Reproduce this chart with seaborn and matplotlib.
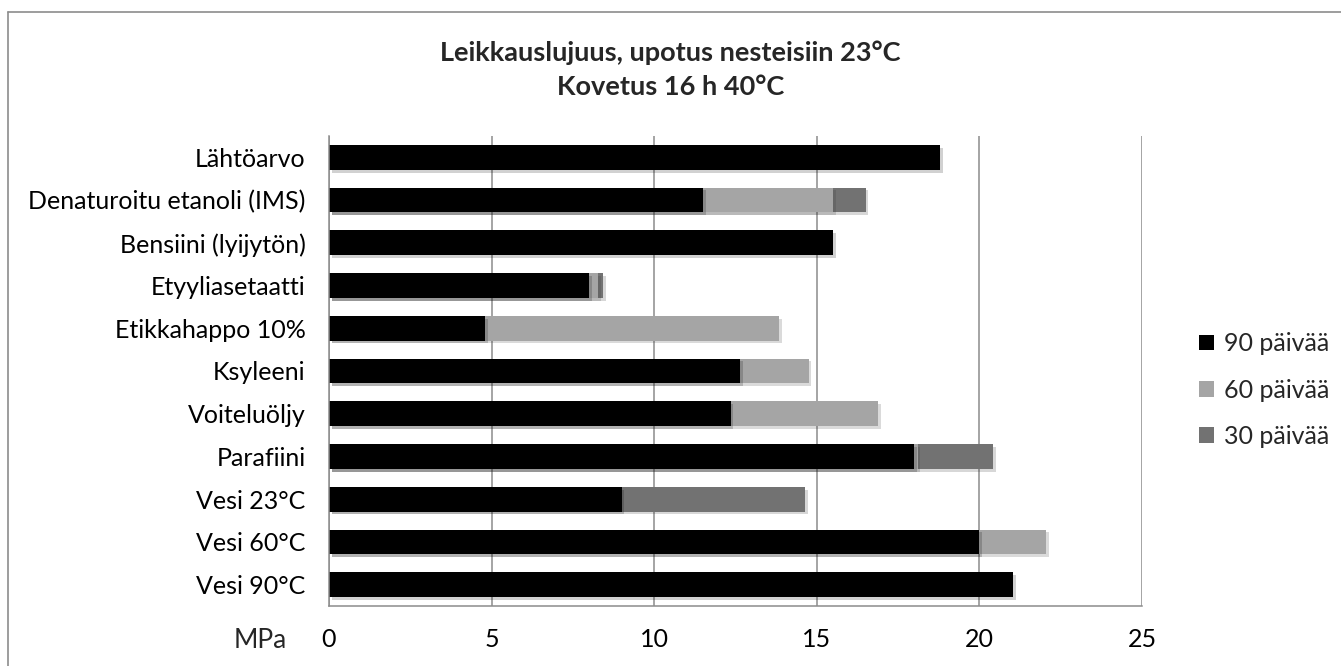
import numpy as np
import pandas as pd
import matplotlib
matplotlib.use("Agg")
import matplotlib.pyplot as plt
import matplotlib.patheffects as pe
from matplotlib.patches import Patch
from matplotlib.lines import Line2D
import seaborn as sns

# Data (MPa); NaN = not visible / no value
categories = ["Lähtöarvo", "Denaturoitu etanoli (IMS)", "Bensiini (lyijytön)",
              "Etyyliasetaatti", "Etikkahappo 10%", "Ksyleeni", "Voiteluöljy",
              "Parafiini", "Vesi 23°C", "Vesi 60°C", "Vesi 90°C"]
days_90 = [18.8, 11.5, 15.5, 8.0, 4.8, 12.65, 12.35, 18.0, 9.0, 20.0, 21.03]
days_60 = [np.nan, 15.5, np.nan, 8.28, 13.83, 14.75, 16.88, 18.1, np.nan, 22.05, np.nan]
days_30 = [np.nan, 16.5, np.nan, 8.42, np.nan, np.nan, np.nan, 20.42, 14.63, np.nan, np.nan]
series = ["90 päivää", "60 päivää", "30 päivää"]
colors = {"90 päivää": "#000000", "60 päivää": "#a5a5a5", "30 päivää": "#727272"}

df = pd.DataFrame({"kategoria": categories * 3,
                   "MPa": days_90 + days_60 + days_30,
                   "sarja": [series[0]] * 11 + [series[1]] * 11 + [series[2]] * 11})

sns.set_style("white")
plt.rcParams["font.family"] = ["Lato", "DejaVu Sans"]

fig = plt.figure(figsize=(13.41, 6.66), dpi=100)
ax = fig.add_axes([329 / 1341, 60 / 666, (1142 - 329) / 1341, (606 - 136) / 666])

# overlapping bars: 30 days at back, 90 days in front
sns.barplot(data=df, y="kategoria", x="MPa", hue="sarja",
            hue_order=["30 päivää", "60 päivää", "90 päivää"],
            order=categories, palette=colors, dodge=False, width=0.58,
            orient="h", ax=ax, legend=False)

for bar in ax.patches:
    bar.set_edgecolor("none")
    bar.set_path_effects([pe.SimplePatchShadow(offset=(2, -2), alpha=0.18, rho=0.3),
                          pe.Normal()])

ax.set_xlim(0, 25)
ax.set_xticks([0, 5, 10, 15, 20, 25])
ax.set_ylim(len(categories) - 0.5, -0.5)
ax.xaxis.grid(True, color="#8c8c8c", linewidth=1.1)
ax.yaxis.grid(False)
ax.set_axisbelow(True)
for side in ["top", "right"]:
    ax.spines[side].set_visible(False)
ax.spines["left"].set_color("#8c8c8c")
ax.spines["bottom"].set_color("#8c8c8c")
ax.spines["left"].set_linewidth(1.1)
ax.spines["bottom"].set_linewidth(1.1)
ax.tick_params(axis="both", length=0, labelsize=18, colors="#000000")
ax.tick_params(axis="x", pad=16)
ax.tick_params(axis="y", pad=17)
ax.set_ylabel("")
ax.set_xlabel("")

fig.text(260 / 1341, 1 - 640 / 666, "MPa", fontsize=19, ha="center", va="center")

fig.text(0.5, 1 - 53 / 666, "Leikkauslujuus, upotus nesteisiin 23°C",
         fontsize=19.5, fontweight="bold", ha="center", va="center")
fig.text(0.5, 1 - 87 / 666, "Kovetus 16 h 40°C",
         fontsize=19.5, fontweight="bold", ha="center", va="center")

handles = [Patch(facecolor=colors[s], edgecolor="none", label=s) for s in series]
fig.legend(handles=handles, loc="center left", bbox_to_anchor=(1176 / 1341, 1 - 390 / 666),
           frameon=False, fontsize=18, handlelength=0.6, handleheight=0.6,
           handletextpad=0.4, labelspacing=0.93)

# outer chart border
fig.add_artist(Line2D([8 / 1341, 8 / 1341], [0, 1 - 12 / 666], transform=fig.transFigure,
                      color="#8c8c8c", linewidth=1.2))
fig.add_artist(Line2D([8 / 1341, 1], [1 - 12 / 666, 1 - 12 / 666], transform=fig.transFigure,
                      color="#8c8c8c", linewidth=1.2))

fig.savefig("out.png", dpi=100)
